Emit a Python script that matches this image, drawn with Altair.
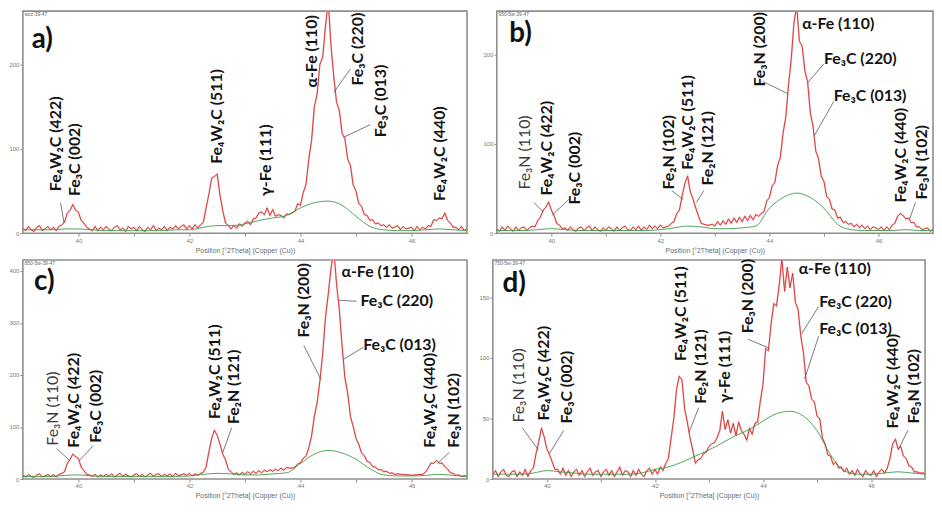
import altair as alt
import pandas as pd

# ---------------- data ----------------
TWO_THETA_START = 39.0
TWO_THETA_STEP = 0.05
BG_STEP = 0.25

COUNTS_A = [
    6, 3, 8, 4, 2, 7, 9, 3, 5, 8,
    4, 7, 3, 8, 10, 13, 24, 27, 34, 27,
    25, 15, 12, 7, 5, 3, 8, 3, 7, 4,
    8, 4, 3, 7, 9, 4, 6, 2, 8, 5,
    7, 3, 8, 4, 2, 7, 4, 9, 3, 6,
    4, 8, 3, 7, 5, 9, 5, 8, 10, 5,
    9, 5, 10, 6, 10, 13, 30, 46, 65, 67,
    70, 45, 27, 12, 9, 5, 9, 6, 11, 8,
    12, 14, 10, 17, 18, 24, 25, 22, 30, 21,
    28, 20, 22, 21, 18, 23, 22, 24, 26, 35,
    33, 48, 58, 88, 110, 150, 165, 200, 208, 245,
    275, 222, 185, 155, 145, 118, 112, 88, 80, 57,
    50, 35, 32, 22, 21, 15, 16, 11, 12, 9,
    10, 7, 10, 6, 7, 9, 4, 8, 5, 6,
    7, 3, 8, 4, 7, 5, 9, 8, 16, 15,
    18, 17, 24, 15, 12, 7, 7, 4, 8, 3,
    6]
COUNTS_B = [
    5, 2, 7, 3, 8, 5, 2, 7, 3, 6,
    7, 3, 6, 8, 7, 14, 18, 26, 29, 35,
    26, 20, 11, 9, 5, 6, 3, 7, 4, 2,
    6, 7, 3, 6, 8, 3, 7, 4, 2, 6,
    3, 7, 5, 2, 7, 3, 6, 8, 4, 3,
    7, 4, 8, 3, 7, 4, 9, 5, 8, 5,
    9, 6, 7, 8, 11, 13, 22, 26, 42, 56,
    64, 46, 38, 28, 19, 11, 10, 9, 9, 10,
    8, 13, 9, 14, 10, 16, 11, 17, 12, 18,
    13, 19, 14, 20, 15, 21, 19, 22, 24, 36,
    40, 53, 57, 76, 85, 112, 130, 166, 195, 236,
    255, 215, 210, 182, 170, 135, 120, 92, 84, 64,
    58, 41, 38, 27, 26, 17, 18, 12, 13, 10,
    11, 7, 10, 6, 9, 5, 8, 4, 7, 6,
    4, 7, 3, 7, 4, 9, 11, 19, 22, 20,
    16, 17, 12, 12, 7, 7, 4, 5, 6, 2,
    5]
COUNTS_C = [
    8, 4, 9, 5, 3, 8, 10, 4, 6, 9,
    5, 8, 4, 9, 11, 14, 30, 38, 48, 43,
    40, 23, 16, 9, 8, 5, 9, 4, 8, 5,
    9, 5, 10, 4, 8, 11, 5, 9, 6, 4,
    8, 10, 5, 9, 4, 8, 11, 5, 9, 10,
    5, 9, 6, 10, 5, 11, 7, 8, 10, 7,
    11, 6, 10, 7, 11, 13, 23, 52, 78, 94,
    84, 67, 48, 37, 19, 14, 9, 12, 8, 13,
    9, 14, 10, 15, 11, 16, 12, 17, 14, 18,
    15, 19, 16, 21, 17, 22, 21, 21, 23, 29,
    31, 40, 44, 60, 83, 121, 147, 189, 240, 310,
    355, 405, 440, 375, 325, 255, 195, 165, 120, 101,
    78, 67, 50, 45, 34, 32, 24, 23, 18, 18,
    14, 15, 11, 12, 9, 10, 9, 9, 8, 8,
    7, 8, 8, 9, 9, 13, 21, 31, 30, 36,
    30, 31, 24, 19, 12, 11, 7, 8, 5, 6,
    6]
COUNTS_D = [
    4, 7, 2, 6, 8, 3, 2, 6, 7, 2,
    6, 3, 8, 2, 7, 9, 21, 31, 42, 35,
    25, 20, 14, 8, 8, 4, 9, 3, 7, 2,
    6, 8, 3, 7, 2, 6, 9, 3, 6, 7,
    2, 6, 8, 3, 7, 2, 6, 10, 3, 7,
    6, 2, 7, 3, 8, 4, 2, 7, 9, 4,
    8, 4, 10, 7, 13, 17, 34, 50, 74, 85,
    82, 58, 47, 34, 24, 13, 16, 17, 21, 22,
    27, 29, 30, 34, 40, 56, 41, 49, 38, 46,
    36, 47, 40, 37, 32, 42, 37, 46, 47, 64,
    78, 108, 106, 128, 145, 143, 160, 182, 155, 175,
    158, 170, 146, 140, 118, 104, 80, 77, 66, 64,
    52, 50, 34, 29, 20, 19, 12, 14, 9, 10,
    6, 9, 4, 7, 3, 8, 4, 2, 7, 4,
    3, 7, 2, 6, 8, 5, 9, 17, 29, 33,
    25, 27, 19, 17, 11, 10, 6, 6, 5, 5,
    5]

BG_A = [4, 4, 4, 5, 5, 4, 3, 3, 3, 3, 3, 4, 4, 7, 9, 9, 11, 15, 18, 21,
        30, 36, 38, 33, 20, 8, 4, 3, 3, 4, 5, 4, 3]
BG_B = [3, 3, 3, 4, 5, 4, 3, 3, 3, 3, 3, 3, 4, 6, 8, 7, 5, 5, 6, 8,
        28, 40, 45, 40, 28, 10, 4, 3, 3, 3, 4, 3, 3]
BG_C = [5, 5, 5, 7, 8, 6, 5, 5, 5, 5, 5, 5, 6, 9, 11, 10, 8, 8, 10, 12,
        30, 48, 55, 50, 38, 20, 8, 6, 6, 7, 9, 7, 5]
BG_D = [4, 4, 4, 5, 7, 6, 5, 4, 4, 4, 4, 5, 8, 10, 14, 19, 24, 30, 36, 41,
        48, 54, 56, 52, 40, 20, 7, 4, 4, 5, 6, 5, 4]

PANEL_LABELS = ["a)", "b)", "c)", "d)"]
PANEL_LABEL_POS = [(39.16, 219), (39.23, 214.5), (39.20, 362.5), (39.18, 154.8)]
SAMPLE_NAMES = ["wcc-39-47", "950-5w-39-47", "850-5w-39-47", "750-5w-39-47"]
Y_MAX = [263, 249, 421, 181]
Y_TICKS = [[0, 100, 200], [0, 100, 200], [0, 100, 200, 300, 400], [0, 50, 100, 150]]
X_DOMAIN = [39, 47]
X_TICKS = [40, 41, 42, 43, 44, 45, 46]
X_TITLE = "Position [°2Theta] (Copper (Cu))"

# vertical (rotated) peak labels: text, 2theta, counts at label foot, bold?
VLAB = [
    [("Fe₄W₂C (422)", 39.59, 49.8, True), ("Fe₃C (002)", 39.94, 44, True),
     ("Fe₄W₂C (511)", 42.49, 82.3, True), ("γ-Fe (111)", 43.385, 44, True),
     ("α-Fe (110)", 44.205, 172.6, True), ("Fe₃C (220)", 45.04, 175, True),
     ("Fe₃C (013)", 45.45, 113.5, True), ("Fe₄W₂C (440)", 46.52, 38.2, True)],
    [("Fe₃N (110)", 39.52, 48.9, False), ("Fe₄W₂C (422)", 39.92, 42.2, True),
     ("Fe₃C (002)", 40.44, 32.2, True), ("Fe₂N (102)", 42.15, 48.9, True),
     ("Fe₄W₂C (511)", 42.51, 71.1, True), ("Fe₂N (121)", 42.87, 53.4, True),
     ("Fe₃N (200)", 43.83, 164.5, True), ("Fe₄W₂C (440)", 46.41, 34.5, True),
     ("Fe₃N (102)", 46.80, 37.8, True)],
    [("Fe₃N (110)", 39.55, 64.2, False), ("Fe₄W₂C (422)", 39.93, 60.4, True),
     ("Fe₃C (002)", 40.32, 69.9, True), ("Fe₄W₂C (511)", 42.46, 115.2, True),
     ("Fe₂N (121)", 42.81, 105.7, True), ("Fe₃N (200)", 44.06, 271.9, True),
     ("Fe₄W₂C (440)", 46.34, 60.4, True), ("Fe₃N (102)", 46.77, 60.4, True)],
    [("Fe₃N (110)", 39.49, 46.7, False), ("Fe₄W₂C (422)", 39.94, 48.3, True),
     ("Fe₃C (002)", 40.38, 45.9, True), ("Fe₄W₂C (511)", 42.48, 97.5, True),
     ("Fe₂N (121)", 42.85, 62.2, True), ("γ-Fe (111)", 43.30, 63.1, True),
     ("Fe₃N (200)", 43.72, 120.4, True), ("Fe₄W₂C (440)", 46.40, 41.8, True),
     ("Fe₃N (102)", 46.80, 45.9, True)],
]
# horizontal peak labels: text, 2theta at left edge, counts at text middle
HLAB = [
    [],
    [("α-Fe (110)", 44.60, 234.5), ("Fe₃C (220)", 45.00, 195.6), ("Fe₃C (013)", 45.18, 153.4)],
    [("α-Fe (110)", 44.74, 398.4), ("Fe₃C (220)", 45.08, 341.7), ("Fe₃C (013)", 45.13, 256.8)],
    [("α-Fe (110)", 44.66, 173.6), ("Fe₃C (220)", 45.04, 146.6), ("Fe₃C (013)", 45.04, 123.7)],
]
# leader lines: x1, y1, x2, y2 (data units)
LEADERS = [
    [(39.68, 35.9, 39.74, 12.2), (44.90, 194.6, 44.60, 166.8), (45.257, 128.6, 44.775, 113.5)],
    [(39.68, 34.5, 39.86, 23.3), (40.32, 37.8, 40.01, 20.0), (42.21, 47.8, 42.42, 37.8),
     (42.80, 47.8, 42.66, 34.5), (43.88, 170.0, 44.33, 156.7), (45.00, 190.0, 44.69, 167.9),
     (45.18, 147.8, 44.82, 108.9), (46.68, 34.5, 46.57, 15.6)],
    [(39.61, 58.5, 39.84, 35.9), (40.27, 64.2, 40.02, 35.9), (42.76, 98.2, 42.60, 51.0),
     (44.06, 256.8, 44.37, 190.7), (45.01, 341.7, 44.69, 343.6), (45.13, 253.0, 44.78, 230.3),
     (46.68, 51.0, 46.47, 30.2)],
    [(39.54, 42.6, 39.85, 23.8), (40.31, 40.1, 40.05, 21.3), (42.81, 59.0, 42.63, 38.5),
     (43.72, 115.5, 44.12, 108.1), (45.03, 142.5, 44.72, 120.4), (45.03, 117.9, 44.77, 82.7),
     (46.68, 40.1, 46.50, 23.8)],
]

COUNTS = [COUNTS_A, COUNTS_B, COUNTS_C, COUNTS_D]
BGS = [BG_A, BG_B, BG_C, BG_D]
SIZES = [(448, 224), (440, 224), (448, 221), (436, 221)]

LABEL_FONT = "Lato"
LABEL_SIZE = 16


def panel(i):
    counts = COUNTS[i]
    bg = BGS[i]
    xs = [round(TWO_THETA_START + TWO_THETA_STEP * k, 3) for k in range(len(counts))]
    bxs = [round(TWO_THETA_START + BG_STEP * k, 3) for k in range(len(bg))]
    trace = pd.DataFrame({"x": xs, "y": counts})
    back = pd.DataFrame({"x": bxs, "y": bg})

    xs_ = alt.Scale(domain=X_DOMAIN, nice=False, zero=False)
    ys_ = alt.Scale(domain=[0, Y_MAX[i]], nice=False)
    x_axis = alt.Axis(values=X_TICKS, title=X_TITLE, titleColor="#6a6a6a",
                      labelExpr="datum.value % 2 == 0 ? datum.label : ''")
    y_axis = alt.Axis(values=Y_TICKS[i], title=None, minExtent=12, maxExtent=13)

    def X(field="x"):
        return alt.X(f"{field}:Q", scale=xs_, axis=x_axis, title=X_TITLE)

    def Y(field="y"):
        return alt.Y(f"{field}:Q", scale=ys_, axis=y_axis, title=None)

    halo = alt.Chart(trace).mark_line(color="#f6c6c6", strokeWidth=1.8, clip=True).encode(
        x=X(), y=Y())
    red = alt.Chart(trace).mark_line(color="#d42a2a", strokeWidth=0.9, clip=True).encode(
        x=X(), y=Y())
    green = alt.Chart(back).mark_line(color="#3c9c46", strokeWidth=0.9, interpolate="monotone",
                                      clip=True).encode(x=X(), y=Y())

    vdf = pd.DataFrame(VLAB[i], columns=["label", "x", "y", "bold"])
    layers = [halo, red, green]
    vb = vdf[vdf["bold"]]
    vn = vdf[~vdf["bold"]]
    if len(vb):
        layers.append(alt.Chart(vb).mark_text(
            angle=270, align="left", baseline="middle", font=LABEL_FONT, fontSize=LABEL_SIZE,
            fontWeight="bold", color="#141414").encode(x=X(), y=Y(), text="label:N"))
    if len(vn):
        layers.append(alt.Chart(vn).mark_text(
            angle=270, align="left", baseline="middle", font=LABEL_FONT, fontSize=LABEL_SIZE,
            fontWeight="normal", color="#3a3a3a").encode(x=X(), y=Y(), text="label:N"))
    if HLAB[i]:
        hdf = pd.DataFrame(HLAB[i], columns=["label", "x", "y"])
        layers.append(alt.Chart(hdf).mark_text(
            align="left", baseline="middle", font=LABEL_FONT, fontSize=LABEL_SIZE,
            fontWeight="bold", color="#141414").encode(x=X(), y=Y(), text="label:N"))
    ldf = pd.DataFrame(LEADERS[i], columns=["x", "y", "x2", "y2"])
    layers.append(alt.Chart(ldf).mark_rule(color="#5a5a5a", strokeWidth=0.8).encode(
        x=X(), y=Y(), x2="x2:Q", y2="y2:Q"))

    pl = pd.DataFrame({"label": [PANEL_LABELS[i]], "x": [PANEL_LABEL_POS[i][0]],
                       "y": [PANEL_LABEL_POS[i][1]]})
    layers.append(alt.Chart(pl).mark_text(
        align="left", baseline="alphabetic", font=LABEL_FONT, fontSize=28, fontWeight="bold",
        color="#111111").encode(x=X(), y=Y(), text="label:N"))
    sn = pd.DataFrame({"label": [SAMPLE_NAMES[i]], "x": [39.03], "y": [Y_MAX[i]]})
    layers.append(alt.Chart(sn).mark_text(
        align="left", baseline="top", dy=1, font="Liberation Sans", fontSize=5,
        color="#666666").encode(x=X(), y=Y(), text="label:N"))

    w, h = SIZES[i]
    return alt.layer(*layers).properties(width=w, height=h)


top = alt.hconcat(panel(0), panel(1), spacing=14)
bottom = alt.hconcat(panel(2), panel(3), spacing=10)
chart = alt.vconcat(top, bottom, spacing=4).properties(
    padding={"left": 0, "top": 0, "right": 0, "bottom": 0}
).configure_view(
    stroke="#8f8f8f", strokeWidth=1.6
).configure_axis(
    grid=False, domain=False, labelFont="Liberation Sans", labelFontSize=6,
    labelColor="#777777", tickColor="#8f8f8f", tickSize=3, labelPadding=1,
    titleFont="Liberation Sans", titleFontSize=7, titleFontWeight="normal",
    titleColor="#6a6a6a", titlePadding=3
)

chart.save("out.html", embed_options={"renderer": "svg", "actions": False})
